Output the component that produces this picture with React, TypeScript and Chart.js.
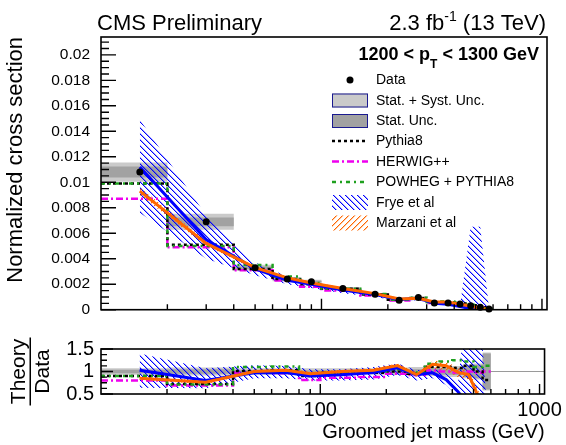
import React, { useEffect, useRef } from "react";
import { Chart, registerables } from "chart.js";
Chart.register(...registerables);

const FONT = '"Liberation Sans", Arial, Helvetica, sans-serif';

// ---------------- data ----------------
const BIN_EDGES = [10, 20, 40, 60, 80, 100, 150, 200, 250, 300, 350, 400, 450, 500, 550, 600];
const BIN_CENTERS = [15, 30, 50, 70, 90, 125, 175, 225, 275, 325, 375, 425, 475, 525, 575];

const DATA = [0.0108, 0.0069, 0.0033, 0.0024, 0.0022, 0.00167, 0.00122, 0.00074, 0.00096, 0.00052, 0.00053, 0.00044, 0.00031, 0.0002, 0.00006];
const TOT_REL = [0.07, 0.09, 0.07, 0.07, 0.07, 0.07, 0.07, 0.08, 0.1, 0.1, 0.12, 0.12, 0.15, 0.18, 0.42];
const STAT_REL = [0.04, 0.05, 0.03, 0.03, 0.03, 0.03, 0.03, 0.04, 0.05, 0.06, 0.07, 0.08, 0.12, 0.15, 0.4];

const PYTHIA8 = [0.0099, 0.0051, 0.0032, 0.0024, 0.002, 0.00164, 0.0012, 0.00078, 0.0009, 0.00058, 0.00058, 0.00048, 0.00035, 0.0002, 0.00005];
const HERWIG = [0.0087, 0.0049, 0.0031, 0.0023, 0.0018, 0.0015, 0.00112, 0.00072, 0.00088, 0.00053, 0.00053, 0.00043, 0.00031, 0.00019, 0.00006];
const POWHEG = [0.0099, 0.005, 0.0035, 0.0026, 0.0021, 0.00165, 0.00123, 0.00078, 0.00094, 0.00061, 0.00064, 0.00055, 0.00038, 0.00022, 0.00007];

const FRYE = [0.0112, 0.0055, 0.0032, 0.0023, 0.002, 0.00155, 0.00119, 0.0008, 0.00089, 0.0005, 0.00043, 0.00024, 0.00008, 0.00002, 0];
const FRYE_LO = [0.0076, 0.004, 0.0027, 0.002, 0.0017, 0.0013, 0.001, 0.00068, 0.00075, 0.00043, 0.00036, 0.00018, 0.00003, 0, 0];
const FRYE_HI = [0.0149, 0.0074, 0.0037, 0.0026, 0.0022, 0.00167, 0.00128, 0.0009, 0.001, 0.00056, 0.0005, 0.0003, 0.0065, 0.0065, 0.0001];

const MARZANI = [0.0093, 0.0052, 0.0033, 0.0025, 0.0021, 0.00167, 0.00126, 0.00084, 0.00089, 0.0006, 0.0006, 0.00043, 0.00029, 0.00009, 0.00001];
const MARZANI_LO = [0.009, 0.005, 0.0032, 0.0024, 0.002, 0.0016, 0.0012, 0.0008, 0.00085, 0.00055, 0.00055, 0.00038, 0.00025, 0.00006, 0];
const MARZANI_HI = [0.0096, 0.0054, 0.0034, 0.0026, 0.0022, 0.00174, 0.00132, 0.00088, 0.00093, 0.00065, 0.00065, 0.00048, 0.00033, 0.00012, 0.00003];

// ratio panel (theory / data)
const PYTHIA8_R = [0.9, 0.72, 1.01, 1.03, 0.9, 0.98, 0.97, 1.0, 0.95, 1.1, 1.1, 1.08, 1.13, 1.0, 0.81];
const HERWIG_R = [0.8, 0.69, 0.97, 0.96, 0.81, 0.86, 0.88, 0.95, 0.92, 1.02, 1.0, 0.98, 1.0, 0.97, 1.0];
const POWHEG_R = [0.9, 0.71, 1.1, 1.11, 0.93, 0.98, 1.0, 1.05, 0.98, 1.17, 1.22, 1.25, 1.22, 1.1, 1.13];
const FRYE_R = [1.03, 0.8, 0.97, 0.98, 0.9, 0.93, 0.98, 1.08, 0.93, 0.97, 0.82, 0.55, 0.25, 0.1, 0];
const FRYE_R_LO = [0.64, 0.63, 0.85, 0.85, 0.8, 0.8, 0.82, 0.92, 0.8, 0.85, 0.7, 0.42, 0.1, 0, 0];
const FRYE_R_HI = [1.4, 1.07, 1.14, 1.12, 1.05, 1.05, 1.1, 1.18, 1.03, 1.08, 0.95, 0.75, 3.0, 3.0, 0.2];
const MARZANI_R = [0.85, 0.76, 1.0, 1.03, 0.95, 1.0, 1.03, 1.13, 0.93, 1.16, 1.13, 0.98, 0.93, 0.45, 0.1];
const MARZANI_R_LO = [0.81, 0.72, 0.96, 0.99, 0.91, 0.96, 0.99, 1.08, 0.88, 1.06, 1.02, 0.87, 0.82, 0.33, 0];
const MARZANI_R_HI = [0.89, 0.8, 1.04, 1.07, 0.99, 1.04, 1.07, 1.18, 0.98, 1.24, 1.22, 1.08, 1.04, 0.58, 0.2];
const RATIO_REF = 1;

// axes
const X_MIN = 10;
const X_MAX = 1054;
const X_MAJOR = [100, 1000];
const X_MINOR = [20, 30, 40, 50, 60, 70, 80, 90, 200, 300, 400, 500, 600, 700, 800, 900];
const Y_TOP_MAX = 0.0214;
const Y_TOP_TICKS = [0, 0.002, 0.004, 0.006, 0.008, 0.01, 0.012, 0.014, 0.016, 0.018, 0.02];
const Y_TOP_MINOR_STEP = 0.0005;
const Y_RATIO_TICKS = [0.5, 1, 1.5];
const Y_RATIO_MINOR_STEP = 0.125;

// ---------------- helpers ----------------
const stepPts = (vals: number[]) => {
  const p = vals.map((v, i) => ({ x: BIN_EDGES[i], y: v }));
  p.push({ x: BIN_EDGES[vals.length], y: vals[vals.length - 1] });
  return p;
};
const ctrPts = (vals: number[]) => vals.map((v, i) => ({ x: BIN_CENTERS[i], y: v }));

function hatch(color: string, forward: boolean) {
  const s = 6;
  const c = document.createElement("canvas");
  c.width = s;
  c.height = s;
  const g = c.getContext("2d")!;
  g.fillStyle = color;
  for (let i = 0; i < s; i++) {
    const x = forward ? s - 1 - i : i;
    g.fillRect(x, i, 1, 1);
  }
  g.globalAlpha = 0.35;
  for (let i = 0; i < s; i++) {
    const x = forward ? s - 1 - i : i;
    g.fillRect((x + 1) % s, i, 1, 1);
  }
  return g.createPattern(c, "repeat")!;
}

const T = "rgba(0,0,0,0)";
const base = (data: any[], o: any) => ({
  type: "line",
  data,
  pointRadius: 0,
  borderWidth: 0,
  borderColor: T,
  backgroundColor: T,
  fill: false,
  tension: 0,
  clip: 0,
  ...o,
});

const LIGHT = "#cacaca";
const DARK = "#a2a2a2";
const BLUE = "#0000ff";
const ORANGE = "#ff6600";
const MAGENTA = "#ee00ee";
const GREEN = "#1ea01e";

const DASH_PY = [3, 3];
const DASH_HW = [7, 3, 2, 3];
const DASH_PW = [4, 4, 2, 4];

function drawFrameTicks(chart: any, yTicks: number[], yMinorStep: number, yMaj: number, yMin: number, xMaj: number, xMin: number) {
  const { ctx, chartArea: a } = chart;
  const xs = chart.scales.x;
  const ys = chart.scales.y;
  ctx.save();
  ctx.strokeStyle = "#000";
  ctx.lineWidth = 1.4;
  ctx.setLineDash([]);
  ctx.beginPath();
  for (const v of X_MAJOR) {
    const p = xs.getPixelForValue(v);
    ctx.moveTo(p, a.bottom); ctx.lineTo(p, a.bottom - xMaj);
  }
  for (const v of X_MINOR) {
    const p = xs.getPixelForValue(v);
    ctx.moveTo(p, a.bottom); ctx.lineTo(p, a.bottom - xMin);
  }
  for (const v of yTicks) {
    const p = ys.getPixelForValue(v);
    ctx.moveTo(a.left, p); ctx.lineTo(a.left + yMaj, p);
  }
  const lo = ys.min, hi = ys.max;
  for (let k = Math.ceil(lo / yMinorStep); k * yMinorStep <= hi + 1e-12; k++) {
    const v = k * yMinorStep;
    if (yTicks.some((t) => Math.abs(t - v) < 1e-9)) continue;
    const p = ys.getPixelForValue(v);
    ctx.moveTo(a.left, p); ctx.lineTo(a.left + yMin, p);
  }
  ctx.stroke();
  ctx.lineWidth = 1.6;
  ctx.strokeRect(a.left, a.top, a.right - a.left, a.bottom - a.top);
  ctx.restore();
}

function rich(ctx: any, parts: any[], x: number, y: number, align: "left" | "right") {
  let w = 0;
  for (const p of parts) { ctx.font = p.font; w += ctx.measureText(p.t).width; }
  let cx = align === "right" ? x - w : x;
  ctx.textAlign = "left";
  ctx.textBaseline = "alphabetic";
  for (const p of parts) {
    ctx.font = p.font;
    ctx.fillText(p.t, cx, y + (p.dy || 0));
    cx += ctx.measureText(p.t).width;
  }
}

function makeTopPlugin(blue: any, orange: any) {
  return {
    id: "topDecor",
    afterDraw(chart: any) {
      drawFrameTicks(chart, Y_TOP_TICKS, Y_TOP_MINOR_STEP, 15, 8, 11, 5.5);
      const ctx = chart.ctx;
      ctx.save();
      ctx.fillStyle = "#000";
      rich(ctx, [{ t: "CMS Preliminary", font: `22px ${FONT}` }], 97, 30, "left");
      rich(ctx, [
        { t: "2.3 fb", font: `22px ${FONT}` },
        { t: "-1", font: `14px ${FONT}`, dy: -9 },
        { t: " (13 TeV)", font: `22px ${FONT}` },
      ], 546, 30, "right");
      rich(ctx, [
        { t: "1200 < p", font: `bold 18px ${FONT}` },
        { t: "T", font: `bold 12px ${FONT}`, dy: 8 },
        { t: " < 1300 GeV", font: `bold 18px ${FONT}` },
      ], 539, 60, "right");

      // legend
      const bx = 332, bw = 36, tx = 376;
      const rows = [80, 100.5, 121, 141, 161.5, 182, 202.5, 223];
      const labels = ["Data", "Stat. + Syst. Unc.", "Stat. Unc.", "Pythia8", "HERWIG++", "POWHEG + PYTHIA8", "Frye et al", "Marzani et al"];
      ctx.beginPath();
      ctx.arc(bx + bw / 2, rows[0], 3.5, 0, Math.PI * 2);
      ctx.fill();
      ctx.lineWidth = 1;
      ctx.strokeStyle = "#1a1a90";
      ctx.fillStyle = LIGHT;
      ctx.fillRect(bx, rows[1] - 7, bw, 14);
      ctx.strokeRect(bx + 0.5, rows[1] - 6.5, bw - 1, 13);
      ctx.fillStyle = DARK;
      ctx.fillRect(bx, rows[2] - 7, bw, 14);
      ctx.strokeRect(bx + 0.5, rows[2] - 6.5, bw - 1, 13);
      const lineRow = (y: number, color: string, dash: number[]) => {
        ctx.save();
        ctx.strokeStyle = color; ctx.lineWidth = 2.5; ctx.setLineDash(dash);
        ctx.beginPath(); ctx.moveTo(bx, y); ctx.lineTo(bx + bw, y); ctx.stroke();
        ctx.restore();
      };
      lineRow(rows[3], "#000", DASH_PY);
      lineRow(rows[4], MAGENTA, DASH_HW);
      lineRow(rows[5], GREEN, DASH_PW);
      ctx.fillStyle = blue;
      ctx.fillRect(bx, rows[6] - 7.5, bw, 15);
      ctx.fillStyle = orange;
      ctx.fillRect(bx, rows[7] - 7.5, bw, 15);
      ctx.fillStyle = "#000";
      ctx.font = `14px ${FONT}`;
      ctx.textAlign = "left";
      ctx.textBaseline = "middle";
      labels.forEach((l, i) => ctx.fillText(l, tx, rows[i] + 0.5));
      ctx.restore();
    },
  };
}

const ratioPlugin = {
  id: "ratioDecor",
  afterDraw(chart: any) {
    drawFrameTicks(chart, Y_RATIO_TICKS, Y_RATIO_MINOR_STEP, 12, 6, 10, 5);
    const { ctx, chartArea: a } = chart;
    ctx.save();
    ctx.translate(0, (a.top + a.bottom) / 2);
    ctx.rotate(-Math.PI / 2);
    ctx.fillStyle = "#000";
    ctx.font = `21px ${FONT}`;
    ctx.textAlign = "center";
    ctx.textBaseline = "alphabetic";
    ctx.fillText("Theory", 0, 25);
    ctx.fillRect(-34, 29.5, 68, 1.5);
    ctx.fillText("Data", 0, 49);
    ctx.restore();
  },
};

const commonOpts = {
  animation: false,
  responsive: false,
  devicePixelRatio: 1,
  events: [],
  plugins: { legend: { display: false }, tooltip: { enabled: false } },
};

function topConfig(blue: any, orange: any): any {
  const totLo = DATA.map((v, i) => v * (1 - TOT_REL[i]));
  const totHi = DATA.map((v, i) => v * (1 + TOT_REL[i]));
  const stLo = DATA.map((v, i) => v * (1 - STAT_REL[i]));
  const stHi = DATA.map((v, i) => v * (1 + STAT_REL[i]));
  const datasets = [
    base(stepPts(totLo), { stepped: true, order: 20 }),
    base(stepPts(totHi), { stepped: true, order: 20, fill: 0, backgroundColor: LIGHT }),
    base(stepPts(stLo), { stepped: true, order: 19 }),
    base(stepPts(stHi), { stepped: true, order: 19, fill: 2, backgroundColor: DARK }),
    base(ctrPts(FRYE_LO), { order: 18 }),
    base(ctrPts(FRYE_HI), { order: 18, fill: 4, backgroundColor: blue }),
    base(ctrPts(MARZANI_LO), { order: 17 }),
    base(ctrPts(MARZANI_HI), { order: 17, fill: 6, backgroundColor: orange }),
    base(stepPts(PYTHIA8), { stepped: true, order: 10, borderColor: "#000", borderWidth: 2.5, borderDash: DASH_PY }),
    base(stepPts(HERWIG), { stepped: true, order: 11, borderColor: MAGENTA, borderWidth: 2.5, borderDash: DASH_HW }),
    base(stepPts(POWHEG), { stepped: true, order: 9, borderColor: GREEN, borderWidth: 2.5, borderDash: DASH_PW }),
    base(ctrPts(FRYE), { order: 5, borderColor: BLUE, borderWidth: 3 }),
    base(ctrPts(MARZANI), { order: 4, borderColor: ORANGE, borderWidth: 3 }),
    base(ctrPts(DATA), { order: 0, showLine: false, pointRadius: 3.5, pointBackgroundColor: "#000", pointBorderWidth: 0, clip: false }),
  ];
  return {
    type: "line",
    data: { datasets },
    options: {
      ...commonOpts,
      layout: { padding: { left: 0, right: 19, top: 37, bottom: 12 } },
      scales: {
        x: { type: "logarithmic", min: X_MIN, max: X_MAX, display: false },
        y: {
          type: "linear",
          min: 0,
          max: Y_TOP_MAX,
          afterFit: (s: any) => { s.width = 101; },
          afterBuildTicks: (s: any) => { s.ticks = Y_TOP_TICKS.map((v) => ({ value: v })); },
          ticks: {
            callback: (v: number) => (v === 0 ? "0" : String(Number(v.toPrecision(3)))),
            font: { family: FONT, size: 15.5 },
            color: "#000",
            padding: 11,
            autoSkip: false,
          },
          grid: { display: false, drawTicks: false },
          border: { display: false },
          title: {
            display: true,
            text: "Normalized cross section",
            align: "end",
            color: "#000",
            font: { family: FONT, size: 22 },
            padding: { top: 3, bottom: 0 },
          },
        },
      },
    },
    plugins: [makeTopPlugin(blue, orange)],
  };
}

function ratioConfig(blue: any, orange: any): any {
  const totLo = TOT_REL.map((r) => RATIO_REF - r);
  const totHi = TOT_REL.map((r) => RATIO_REF + r);
  const stLo = STAT_REL.map((r) => RATIO_REF - r);
  const stHi = STAT_REL.map((r) => RATIO_REF + r);
  const datasets = [
    base([{ x: X_MIN, y: RATIO_REF }, { x: X_MAX, y: RATIO_REF }], { order: 30, borderColor: "#9a9a9a", borderWidth: 1 }),
    base(stepPts(totLo), { stepped: true, order: 20 }),
    base(stepPts(totHi), { stepped: true, order: 20, fill: 1, backgroundColor: LIGHT }),
    base(stepPts(stLo), { stepped: true, order: 19 }),
    base(stepPts(stHi), { stepped: true, order: 19, fill: 3, backgroundColor: DARK }),
    base(ctrPts(FRYE_R_LO), { order: 18 }),
    base(ctrPts(FRYE_R_HI), { order: 18, fill: 5, backgroundColor: blue }),
    base(ctrPts(MARZANI_R_LO), { order: 17 }),
    base(ctrPts(MARZANI_R_HI), { order: 17, fill: 7, backgroundColor: orange }),
    base(stepPts(PYTHIA8_R), { stepped: true, order: 10, borderColor: "#000", borderWidth: 2.5, borderDash: DASH_PY }),
    base(stepPts(HERWIG_R), { stepped: true, order: 11, borderColor: MAGENTA, borderWidth: 2.5, borderDash: DASH_HW }),
    base(stepPts(POWHEG_R), { stepped: true, order: 9, borderColor: GREEN, borderWidth: 2.5, borderDash: DASH_PW }),
    base(ctrPts(FRYE_R), { order: 5, borderColor: BLUE, borderWidth: 3 }),
    base(ctrPts(MARZANI_R), { order: 4, borderColor: ORANGE, borderWidth: 3 }),
  ];
  return {
    type: "line",
    data: { datasets },
    options: {
      ...commonOpts,
      layout: { padding: { left: 0, right: 19, top: 7, bottom: 0 } },
      scales: {
        x: {
          type: "logarithmic",
          min: X_MIN,
          max: X_MAX,
          afterFit: (s: any) => { s.height = 51; },
          afterBuildTicks: (s: any) => { s.ticks = X_MAJOR.map((v) => ({ value: v })); },
          ticks: {
            callback: (v: number) => String(v),
            font: { family: FONT, size: 20 },
            color: "#000",
            padding: 4,
            autoSkip: false,
            maxRotation: 0,
          },
          grid: { display: false, drawTicks: false },
          border: { display: false },
          title: {
            display: true,
            text: "Groomed jet mass (GeV)",
            align: "end",
            color: "#000",
            font: { family: FONT, size: 20 },
            padding: { top: 0, bottom: 1 },
          },
        },
        y: {
          type: "linear",
          min: 0.5,
          max: 1.5,
          afterFit: (s: any) => { s.width = 101; },
          afterBuildTicks: (s: any) => { s.ticks = Y_RATIO_TICKS.map((v) => ({ value: v })); },
          ticks: {
            callback: (v: number) => String(v),
            font: { family: FONT, size: 20 },
            color: "#000",
            padding: 7,
            autoSkip: false,
          },
          grid: { display: false, drawTicks: false },
          border: { display: false },
        },
      },
    },
    plugins: [ratioPlugin],
  };
}

export default function App() {
  const topRef = useRef<HTMLCanvasElement>(null);
  const botRef = useRef<HTMLCanvasElement>(null);
  useEffect(() => {
    const blue = hatch(BLUE, false);
    const orange = hatch(ORANGE, true);
    const top = new Chart(topRef.current!, topConfig(blue, orange));
    const bot = new Chart(botRef.current!, ratioConfig(blue, orange));
    return () => {
      top.destroy();
      bot.destroy();
    };
  }, []);
  return (
    <div style={{ position: "absolute", left: 0, top: 0, width: 566, height: 445, background: "#fff" }}>
      <canvas ref={topRef} width={566} height={330} style={{ position: "absolute", left: 0, top: 0, width: 566, height: 330 }} />
      <canvas ref={botRef} width={566} height={115} style={{ position: "absolute", left: 0, top: 330, width: 566, height: 115 }} />
    </div>
  );
}
